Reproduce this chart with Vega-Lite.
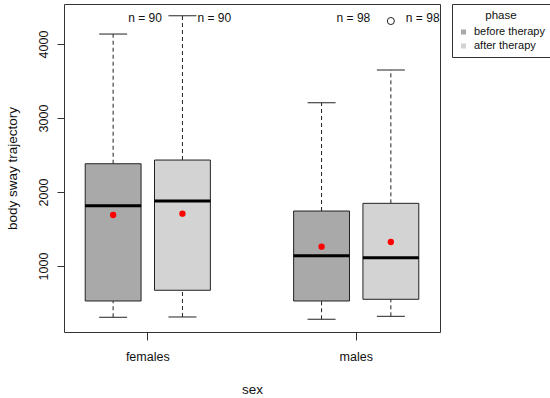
{
  "$schema": "https://vega.github.io/schema/vega-lite/v6.json",
  "width": 376,
  "height": 328,
  "autosize": {"type": "none"},
  "padding": {"left": 64, "top": 4, "right": 110, "bottom": 66},
  "background": "white",
  "config": {
    "font": "Liberation Sans",
    "view": {"stroke": "#333", "strokeWidth": 1},
    "axis": {"grid": false, "domain": false, "tickColor": "#333", "labelColor": "#111", "titleColor": "#111", "labelFont": "Liberation Sans", "titleFont": "Liberation Sans", "labelFontSize": 12.5, "titleFontSize": 13.5, "titleFontWeight": "normal"},
    "legend": {"labelFont": "Liberation Sans", "titleFont": "Liberation Sans"}
  },
  "data": {
    "values": [
      {"sex": "females", "phase": "before therapy", "lower": 307, "q1": 527, "median": 1815, "q3": 2382, "upper": 4135, "mean": 1689, "n": "n = 90"},
      {"sex": "females", "phase": "after therapy", "lower": 311, "q1": 672, "median": 1878, "q3": 2432, "upper": 4382, "mean": 1707, "n": "n = 90"},
      {"sex": "males", "phase": "before therapy", "lower": 280, "q1": 527, "median": 1139, "q3": 1743, "upper": 3207, "mean": 1261, "n": "n = 98"},
      {"sex": "males", "phase": "after therapy", "lower": 320, "q1": 550, "median": 1112, "q3": 1847, "upper": 3649, "mean": 1324, "n": "n = 98"}
    ]
  },
  "encoding": {
    "x": {
      "field": "sex", "type": "nominal",
      "scale": {"paddingInner": 0.335, "paddingOuter": 0.0695},
      "axis": {"title": "sex", "labelAngle": 0, "tickSize": 8, "labelPadding": 10, "titlePadding": 20}
    },
    "xOffset": {
      "field": "phase", "type": "nominal", "sort": ["before therapy", "after therapy"],
      "scale": {"paddingInner": 0.194, "paddingOuter": 0.097}
    }
  },
  "layer": [
    {
      "mark": {"type": "rule", "strokeDash": [4, 3], "color": "#222", "strokeWidth": 1},
      "encoding": {
        "y": {"field": "lower", "type": "quantitative", "scale": {"domain": [108, 4541], "nice": false, "zero": false},
          "axis": {"title": "body sway trajectory", "values": [1000, 2000, 3000, 4000], "format": "d", "labelAngle": 270, "tickSize": 7, "labelPadding": 7, "titlePadding": 18}},
        "y2": {"field": "q1"}
      }
    },
    {
      "mark": {"type": "rule", "strokeDash": [4, 3], "color": "#222", "strokeWidth": 1},
      "encoding": {"y": {"field": "q3", "type": "quantitative"}, "y2": {"field": "upper"}}
    },
    {
      "mark": {"type": "tick", "color": "#222", "opacity": 1, "size": 28, "thickness": 1},
      "encoding": {"y": {"field": "lower", "type": "quantitative"}}
    },
    {
      "mark": {"type": "tick", "color": "#222", "opacity": 1, "size": 28, "thickness": 1},
      "encoding": {"y": {"field": "upper", "type": "quantitative"}}
    },
    {
      "mark": {"type": "bar", "stroke": "#222", "strokeWidth": 1},
      "encoding": {
        "y": {"field": "q1", "type": "quantitative"},
        "y2": {"field": "q3"},
        "fill": {"field": "phase", "type": "nominal",
          "scale": {"domain": ["before therapy", "after therapy"], "range": ["#a9a9a9", "#d3d3d3"]},
          "legend": {"title": "phase", "orient": "none", "legendX": 388, "legendY": 0,
            "strokeColor": "#333", "padding": 6, "symbolType": "square", "symbolSize": 25, "symbolStrokeWidth": 0,
            "labelFontSize": 11, "titleFontSize": 11.5, "titleFontWeight": "normal", "titleAnchor": "middle", "titleAlign": "center",
            "labelColor": "#111", "titleColor": "#111", "rowPadding": 2, "titlePadding": 5, "labelOffset": 5}}
      }
    },
    {
      "mark": {"type": "tick", "color": "#000", "opacity": 1, "size": 56, "thickness": 3},
      "encoding": {"y": {"field": "median", "type": "quantitative"}}
    },
    {
      "mark": {"type": "circle", "color": "#ff0000", "opacity": 1, "size": 40},
      "encoding": {"y": {"field": "mean", "type": "quantitative"}}
    },
    {
      "mark": {"type": "text", "align": "left", "dx": 15, "fontSize": 12, "color": "#111", "baseline": "middle"},
      "encoding": {"y": {"datum": 4351}, "text": {"field": "n"}}
    },
    {
      "data": {"values": [{"sex": "males", "phase": "after therapy", "value": 4311}]},
      "mark": {"type": "point", "shape": "circle", "filled": false, "opacity": 1, "color": "#222", "size": 50, "strokeWidth": 1},
      "encoding": {"y": {"field": "value", "type": "quantitative"}}
    }
  ]
}
